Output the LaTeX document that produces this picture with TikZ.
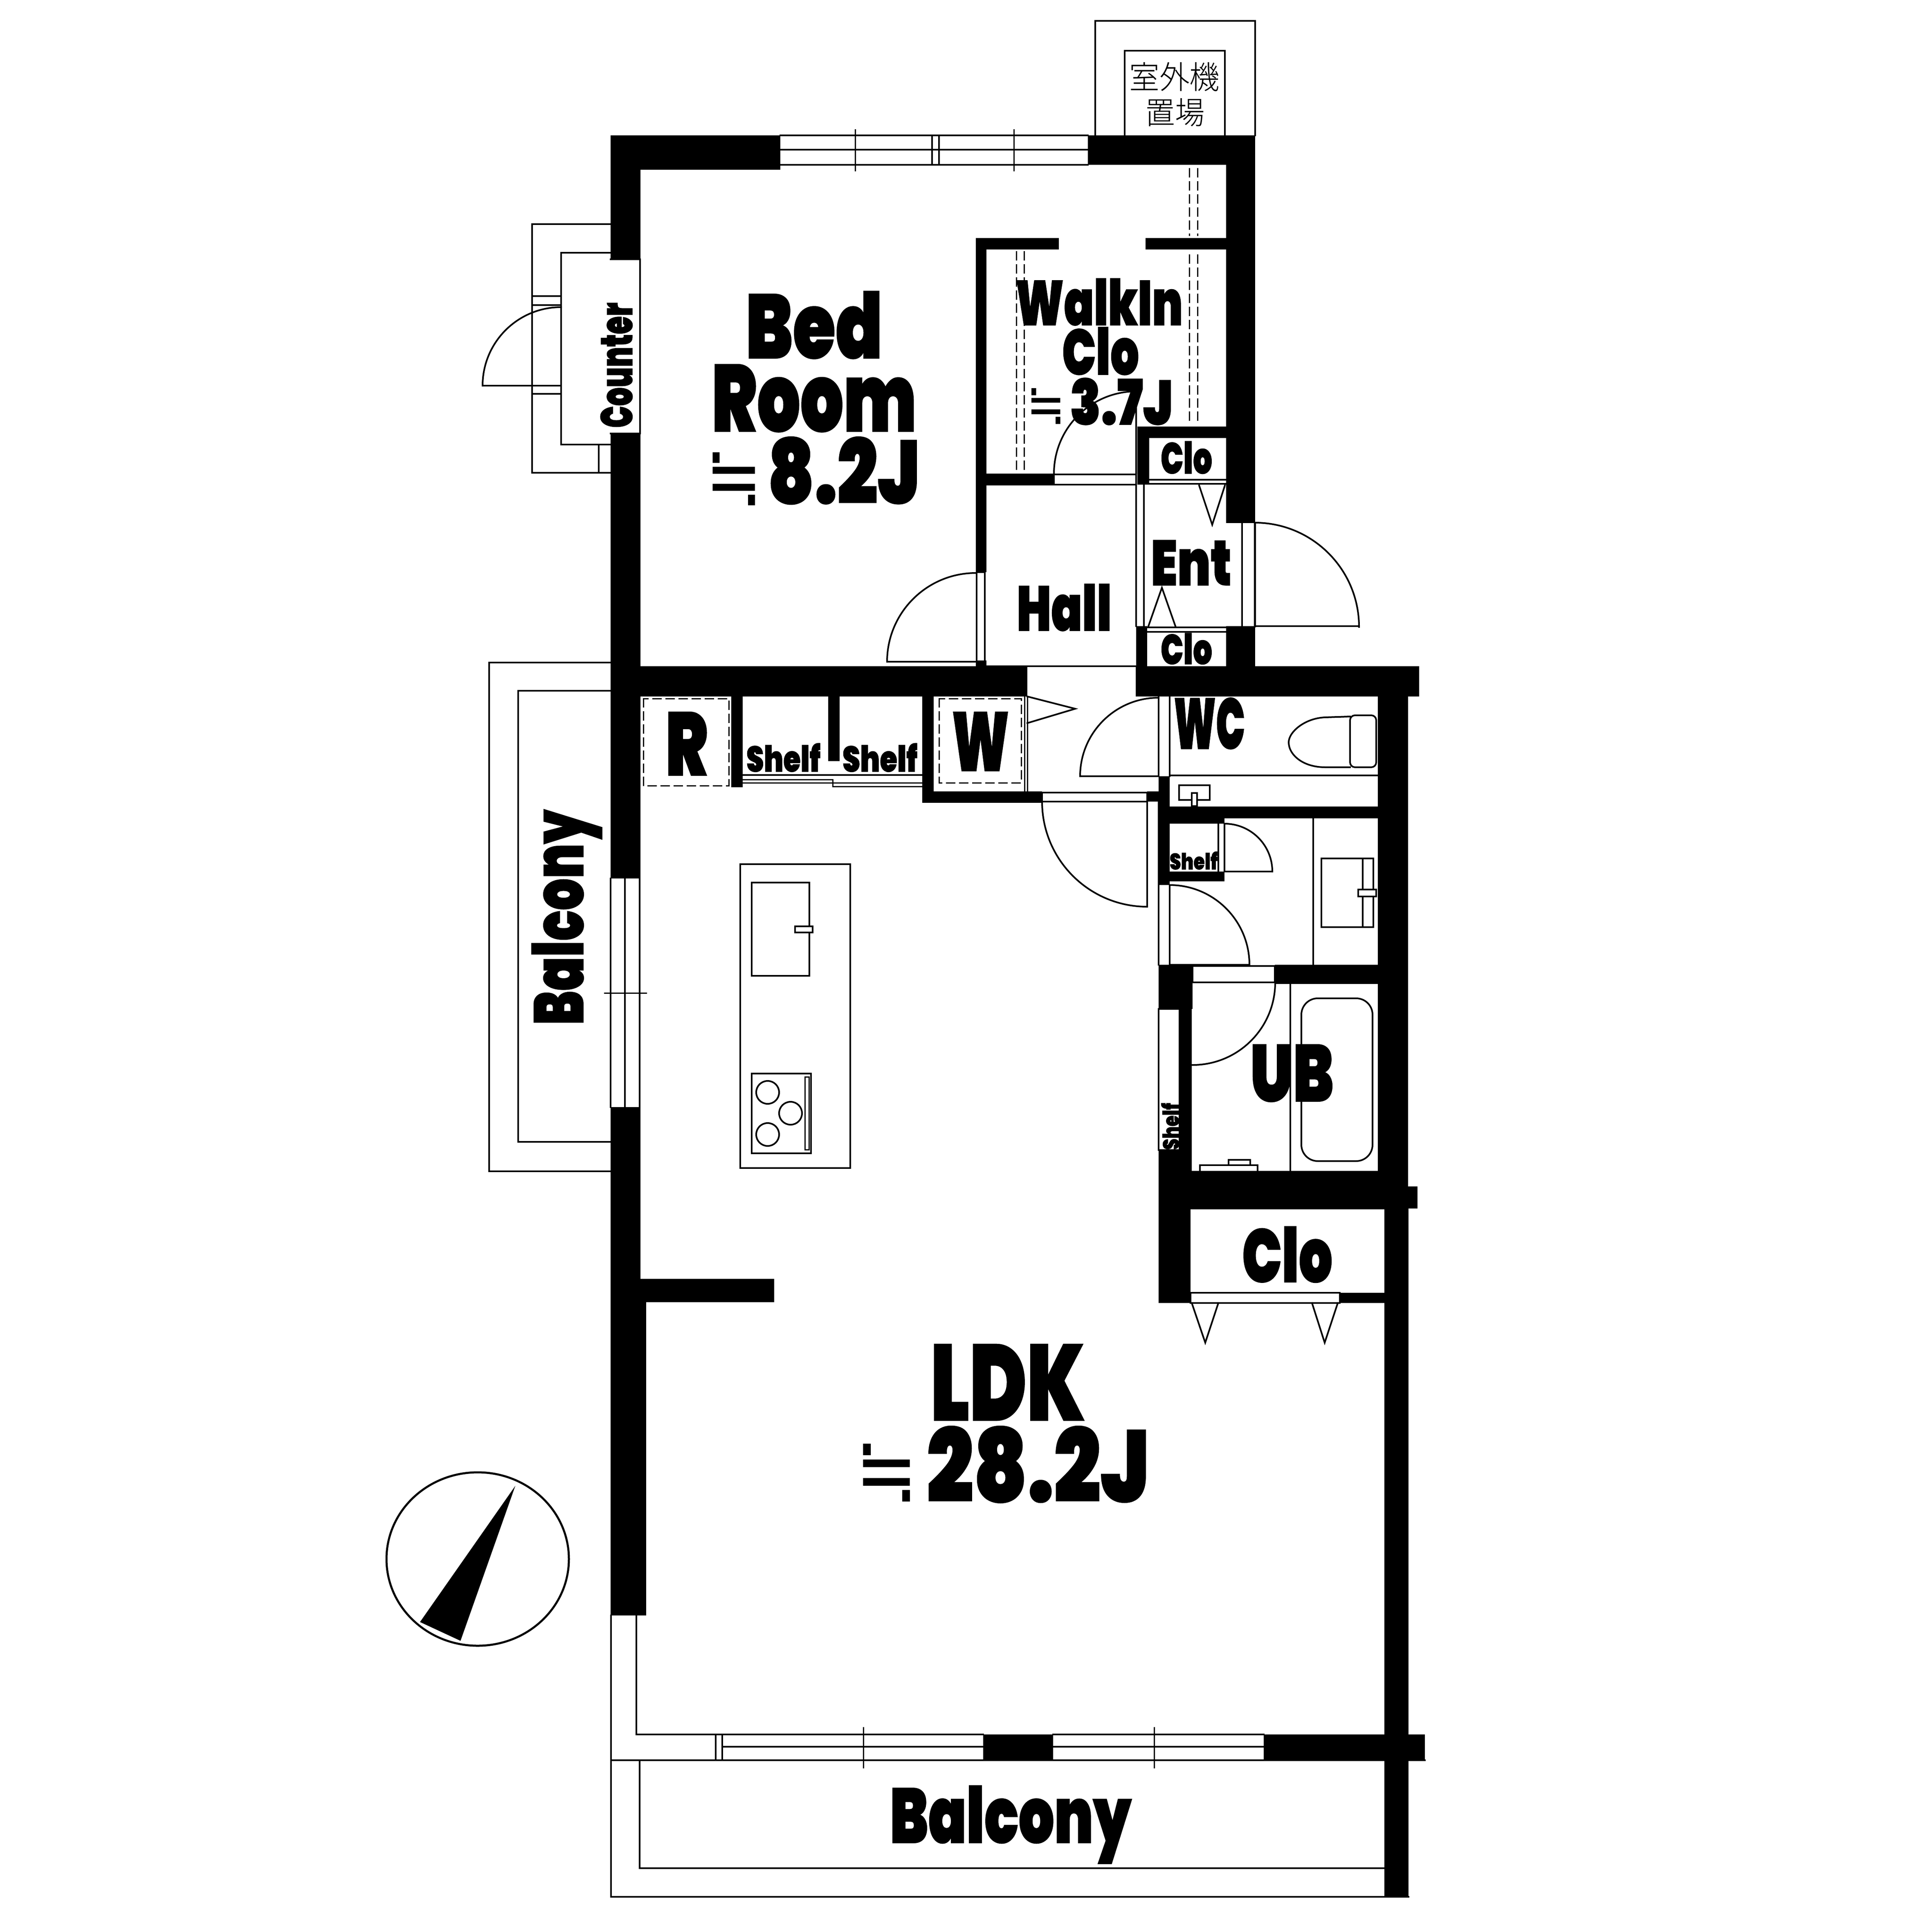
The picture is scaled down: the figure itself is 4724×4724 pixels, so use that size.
\documentclass[tikz,border=0pt]{standalone}
\usepackage{fontspec}
\usepackage{graphicx}
\newfontfamily\imp[FakeBold=1]{Poppins Black}
\newfontfamily\eqf{DejaVu Sans}
\newfontfamily\cjkf{Noto Sans CJK JP Light}
\tikzset{
  wall/.style={fill=black,draw=none},
  lab/.style={anchor=base,inner sep=0pt,outer sep=0pt},
  dsh/.style={line width=0.03cm,dash pattern=on 0.2cm off 0.12cm},
  thk/.style={line width=0.05cm},
  thn/.style={line width=0.03cm}
}
% name, x1, x2, ytop, ybase, text
\newcommand\lbl[6]{%
  \pgfmathsetmacro\cw{(#3-#2)*0.01}\pgfmathsetmacro\ch{(#5-#4)*0.01}%
  \node[lab] (#1) at ({(#2+#3)/2},#5) {\resizebox{\cw cm}{\ch cm}{\imp #6}};}
% name, ylow(bottom), yhigh(top), xtop, xbase, text  (rotated, reading upward)
\newcommand\lblr[6]{%
  \pgfmathsetmacro\cw{(#2-#3)*0.01}\pgfmathsetmacro\ch{(#5-#4)*0.01}%
  \node[lab,rotate=90] (#1) at (#5,{(#2+#3)/2}) {\resizebox{\cw cm}{\ch cm}{\imp #6}};}
% approximately-equal sign, by its ink box
\newcommand\lbq[5]{%
  \pgfmathsetmacro\cw{(#3-#2)*0.0133}\pgfmathsetmacro\ch{(#5-#4)*0.01}%
  \node[inner sep=0pt,outer sep=0pt,anchor=center] (#1) at ({(#2+#3)/2},{(#4+#5)/2}) {\resizebox*{\cw cm}{\ch cm}{\eqf ≒}};}
\begin{document}
\begin{tikzpicture}[x=0.01cm,y=-0.01cm,line width=0.04cm,line cap=rect]
\useasboundingbox (0,0) rectangle (4724,4724);
\fill[white] (0,0) rectangle (4724,4724);

% --- outdoor unit
\draw (2678,331) -- (2678,51) -- (3069,51) -- (3069,331);
\draw (2750,331) -- (2750,124) -- (2995,124) -- (2995,331);
\node[lab] (ac1) at (2872,217) {\resizebox{2.21cm}{0.65cm}{\cjkf 室外機}};
\node[lab] (ac2) at (2873,304) {\resizebox{1.45cm}{0.63cm}{\cjkf 置場}};

% --- top window
\draw (1908,331) -- (2660,331) (1908,366) -- (2660,366) (1908,403) -- (2660,403);
\draw[thn] (2091,317) -- (2091,417) (2479,317) -- (2479,417);
\draw (2279,331) -- (2279,403) (2296,331) -- (2296,403);

% --- walls: exterior upper
\fill[wall] (1493,331) rectangle (1908,415);
\fill[wall] (1493,331) rectangle (1566,634);
\fill[wall] (1493,1060) rectangle (1566,1703);
\fill[wall] (2660,331) rectangle (3069,403);
\fill[wall] (2998,331) rectangle (3069,1279);
\fill[wall] (1493,1629) rectangle (2512,1703);
\fill[wall] (1493,1629) rectangle (1566,2148);

% --- counter / left balcony stub
\draw (1493,548) -- (1301,548) -- (1301,1156) -- (1493,1156);
\draw (1493,618) -- (1372,618) -- (1372,1087) -- (1493,1087);
\draw (1464,1087) -- (1464,1156);
\draw (1493,634) -- (1565,634) -- (1565,1060) -- (1493,1060);
\draw (1301,724) -- (1372,724) (1301,746) -- (1372,746);
\draw (1301,943) -- (1372,943) (1301,963) -- (1372,963);
\draw (1180,943) -- (1372,943);
\draw (1180,943) arc[start angle=180,end angle=270,radius=192];

% --- walk-in closet
\fill[wall] (2386,582) rectangle (2589,610);
\fill[wall] (2801,582) rectangle (2998,610);
\fill[wall] (2386,582) rectangle (2412,1399);
\fill[wall] (2412,1158) rectangle (2577,1187);
\draw (2577,1160) rectangle (2778,1185);
\draw (2577,1158) arc[start angle=180,end angle=270,radius=201] -- (2778,1158);
\draw[dsh] (2908,412) -- (2908,575) (2928,412) -- (2928,575);
\draw[dsh] (2908,623) -- (2908,1035) (2928,623) -- (2928,1035);
\draw[dsh] (2485,615) -- (2485,1158) (2504,615) -- (2504,1158);

% --- bedroom door
\fill[wall] (2386,1615) rectangle (2412,1629);
\draw (2388,1399) -- (2388,1628) (2408,1399) -- (2408,1628) (2388,1399) -- (2408,1399);
\draw (2169,1618) -- (2386,1618);
\draw (2169,1618) arc[start angle=180,end angle=270,radius=217];

% --- closets, entrance
\fill[wall] (2781,1043) rectangle (2998,1071);
\fill[wall] (2781,1043) rectangle (2810,1185);
\draw (2810,1173) -- (2998,1173) (2810,1183) -- (2998,1183);
\draw (2932,1187) -- (2964,1283) -- (2995,1187);
\draw (2778,1185) -- (2778,1531) (2797,1185) -- (2797,1531);
\fill[wall] (2778,1531) rectangle (2805,1703);
\fill[wall] (2998,1531) rectangle (3069,1703);
\draw (2805,1534) -- (2998,1534) (2805,1545) -- (2998,1545);
\draw (2808,1531) -- (2841,1437) -- (2874,1531);
\draw (3037,1279) -- (3037,1531);
\draw[thk] (3068,1279) -- (3068,1531);
\draw (3068,1531) -- (3323,1531);
\draw (3068,1278) arc[start angle=270,end angle=360,radius=255];
\draw (2412,1629) -- (2778,1629);

% --- wall band right of hall
\fill[wall] (2777,1629) rectangle (3470,1703);
\fill[wall] (3369,1703) rectangle (3443,2957);
\fill[wall] (3369,2901) rectangle (3466,2955);
\fill[wall] (3385,2955) rectangle (3444,4638);

% --- kitchen side
\draw[dsh] (1573,1708) rectangle (1782,1921);
\fill[wall] (1788,1703) rectangle (1816,1925);
\fill[wall] (2025,1703) rectangle (2053,1861);
\draw (1816,1895) -- (2255,1895);
\draw[thn] (1816,1906) -- (2036,1906) -- (2036,1914) -- (2255,1914) (1816,1914) -- (2036,1914) -- (2036,1923) -- (2255,1923);
\fill[wall] (2255,1703) rectangle (2283,1963);
\fill[wall] (2255,1935) rectangle (2548,1963);
\draw[dsh] (2296,1708) rectangle (2497,1914);
\draw[thn] (2505,1703) -- (2505,1935) (2512,1703) -- (2512,1935);
\draw (2512,1703) -- (2629,1733) -- (2512,1768);

% --- LDK door
\draw (2548,1938) rectangle (2805,1960);
\fill[wall] (2805,1935) rectangle (2833,1960);
\draw (2805,1960) -- (2805,2217);
\draw (2548,1960) arc[start angle=180,end angle=90,radius=257];
\draw (2833,1960) -- (2833,2359);

% --- WC
\draw (2833,1703) -- (2833,1898) (2860,1703) -- (2860,1898);
\draw (2641,1898) -- (2833,1898);
\draw (2641,1898) arc[start angle=180,end angle=270,radius=192];
\fill[wall] (2833,1898) rectangle (2860,2164);
\fill[wall] (2833,1972) rectangle (3369,2001);
\draw (2860,1896) -- (3369,1896);
\draw[rounded corners=0.12cm] (3301,1749) rectangle (3365,1876);
\draw (3301,1752) -- (3240,1754) .. controls (3190,1756) and (3151,1790) .. (3151,1815) .. controls (3151,1845) and (3185,1876) .. (3240,1876) -- (3301,1876);
\draw (2883,1920) rectangle (2958,1956);
\filldraw[fill=white] (2914,1939) rectangle (2927,1971);

% --- washroom
\fill[wall] (2833,2001) rectangle (2994,2014);
\fill[wall] (2833,2131) rectangle (2994,2155);
\draw (2979,2014) -- (2979,2131) (2994,2014) -- (2994,2131);
\draw (2994,2131) -- (3111,2131);
\draw (2994,2014) arc[start angle=270,end angle=360,radius=117];
\draw (2860,2164) -- (2860,2359);
\draw (2860,2359) -- (3055,2359);
\draw (2860,2164) arc[start angle=270,end angle=360,radius=195];
\draw (3211,2001) -- (3211,2359);
\draw (3231,2099) rectangle (3358,2267);
\draw (3332,2099) -- (3332,2267);
\filldraw[fill=white] (3321,2175) rectangle (3365,2192);

% --- UB
\fill[wall] (2833,2359) rectangle (2916,2467);
\fill[wall] (3117,2359) rectangle (3369,2406);
\draw (2916,2362) rectangle (3117,2402);
\fill[wall] (2884,2467) rectangle (2914,2863);
\draw (2833,2467) rectangle (2884,2812);
\fill[wall] (2833,2812) rectangle (2914,2900);
\fill[wall] (2833,2863) rectangle (3443,2957);
\draw (3118,2402) arc[start angle=0,end angle=90,radius=202];
\draw (3155,2406) -- (3155,2863);
\draw[rounded corners=0.4cm] (3182,2441) rectangle (3356,2839);
\draw (2934,2863) -- (2934,2849) -- (3075,2849) -- (3075,2863);
\draw (3004,2849) -- (3004,2836) -- (3057,2836) -- (3057,2849);

% --- lower closet
\fill[wall] (2833,2957) rectangle (2911,3186);
\fill[wall] (3276,3161) rectangle (3385,3186);
\draw (2911,3161) rectangle (3276,3186);
\draw (2914,3186) -- (2947,3283) -- (2979,3186);
\draw (3208,3186) -- (3239,3283) -- (3271,3186);

% --- island kitchen
\draw (1810,2113) rectangle (2079,2856);
\draw (1838,2158) rectangle (1979,2386);
\filldraw[fill=white] (1944,2265) rectangle (1987,2280);
\draw (1838,2625) rectangle (1983,2820);
\draw (1877,2671) circle[radius=28];
\draw (1933,2722) circle[radius=28];
\draw (1877,2774) circle[radius=28];
\draw[thn] (1968,2633) rectangle (1978,2811);

% --- left balcony
\draw (1493,1620) -- (1196,1620) -- (1196,2864) -- (1493,2864);
\draw (1493,1689) -- (1267,1689) -- (1267,2792) -- (1493,2792);
\draw (1493,2148) -- (1493,2707) (1528,2148) -- (1528,2707) (1564,2148) -- (1564,2707);
\draw[thn] (1478,2428) -- (1580,2428);
\fill[wall] (1493,2707) rectangle (1566,3184);
\fill[wall] (1566,3127) rectangle (1893,3184);
\fill[wall] (1493,3184) rectangle (1580,3950);

% --- south window and balcony
\draw (1494,3950) -- (1494,4638) -- (3444,4638);
\draw (1556,3950) -- (1556,4241) -- (2404,4241);
\draw (1494,4304) -- (3484,4304);
\draw (1766,4271) -- (3090,4271);
\draw (2575,4241) -- (3090,4241);
\draw (1750,4241) -- (1750,4304) (1766,4241) -- (1766,4304);
\draw[thn] (2111,4224) -- (2111,4322) (2822,4224) -- (2822,4322);
\fill[wall] (2404,4241) rectangle (2575,4306);
\fill[wall] (3090,4241) rectangle (3484,4306);
\draw (1564,4306) -- (1564,4568) -- (3385,4568);

% --- compass
\draw[thk] (1168,3812) ellipse[x radius=223,y radius=212];
\fill (1260,3633) -- (1027,3966) -- (1126,4012) -- cycle;

% --- labels
\lbl{bed}{1823}{2158}{712}{876}{Bed}
\lbl{room}{1740}{2241}{891}{1055}{Room}
\lbq{eqa}{1743}{1847}{1106}{1236}
\lbl{areaa}{1877}{2249}{1068}{1231}{8.2J}
\lbl{walk}{2483}{2892}{681}{795}{WalkIn}
\lbl{cloa}{2597}{2785}{800}{916}{Clo}
\lbq{eqb}{2522}{2593}{949}{1037}
\lbl{areab}{2616}{2868}{924}{1038}{3.7J}
\lbl{clob}{2838}{2964}{1079}{1158}{Clo}
\lbl{ent}{2814}{3011}{1321}{1431}{Ent}
\lbl{hall}{2486}{2718}{1428}{1542}{Hall}
\lbl{cloc}{2838}{2964}{1548}{1624}{Clo}
\lblr{counter}{1046}{740}{1468}{1546}{Counter}
\lbl{rr}{1627}{1731}{1741}{1896}{R}
\lbl{shelfa}{1825}{2006}{1817}{1887}{Shelf}
\lbl{shelfb}{2060}{2243}{1817}{1887}{Shelf}
\lbl{ww}{2327}{2468}{1741}{1885}{W}
\lbl{wc}{2870}{3044}{1706}{1831}{WC}
\lbl{shelfc}{2860}{2977}{2082}{2126}{Shelf}
\lbl{ub}{3057}{3261}{2554}{2693}{UB}
\lbl{clod}{3037}{3258}{2999}{3135}{Clo}
\lblr{shelfd}{2811}{2697}{2839}{2883}{Shelf}
\lblr{balw}{2506}{1980}{1300}{1426}{Balcony}
\lbl{bals}{2176}{2766}{4366}{4506}{Balcony}
\lbl{ldk}{2275}{2653}{3287}{3473}{LDK}
\lbq{eqc}{2111}{2226}{3530}{3672}
\lbl{aread}{2266}{2810}{3487}{3672}{28.2J}
\end{tikzpicture}
\end{document}
